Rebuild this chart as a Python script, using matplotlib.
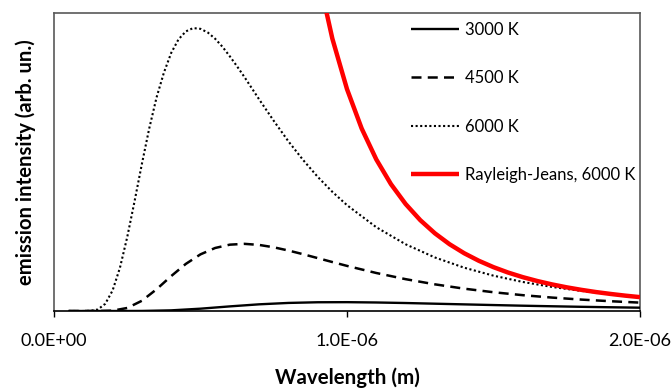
import numpy as np
import matplotlib
matplotlib.use("Agg")
import matplotlib.pyplot as plt
from matplotlib.ticker import FuncFormatter, FixedLocator

# ---- data (wavelength in micrometres, intensity in arbitrary units) ----
wl_3000 = [0.05, 0.20, 0.30, 0.40, 0.50, 0.60, 0.70, 0.80, 0.90, 1.00, 1.10,
           1.20, 1.30, 1.40, 1.50, 1.60, 1.70, 1.80, 1.90, 2.00]
i_3000 = [0.0, 0.0, 0.0002, 0.0023, 0.0082, 0.0163, 0.0236, 0.0285, 0.0309,
          0.0312, 0.0301, 0.0282, 0.0258, 0.0234, 0.0210, 0.0187, 0.0167,
          0.0148, 0.0132, 0.0117]

wl_4500 = [0.05, 0.15, 0.20, 0.25, 0.30, 0.35, 0.40, 0.45, 0.50, 0.55, 0.60,
           0.65, 0.70, 0.75, 0.80, 0.85, 0.90, 0.95, 1.00, 1.10, 1.20, 1.30,
           1.40, 1.50, 1.60, 1.70, 1.80, 1.90, 2.00]
i_4500 = [0.0, 0.0, 0.0013, 0.0107, 0.0362, 0.0768, 0.1234, 0.1665, 0.2002,
          0.2227, 0.2344, 0.2373, 0.2335, 0.2251, 0.2137, 0.2007, 0.1869,
          0.1730, 0.1594, 0.1343, 0.1125, 0.0942, 0.0789, 0.0663, 0.0559,
          0.0474, 0.0403, 0.0345, 0.0296]

wl_6000 = [0.05, 0.10, 0.125, 0.15, 0.175, 0.20, 0.225, 0.25, 0.275, 0.30,
           0.325, 0.35, 0.375, 0.40, 0.425, 0.45, 0.475, 0.50, 0.525, 0.55,
           0.575, 0.60, 0.625, 0.65, 0.675, 0.70, 0.75, 0.80, 0.85, 0.90,
           0.95, 1.00, 1.10, 1.20, 1.30, 1.40, 1.50, 1.60, 1.70, 1.80, 1.90,
           2.00]
i_6000 = [0.0, 0.0, 0.0006, 0.0056, 0.0256, 0.0725, 0.1525, 0.2615, 0.388,
          0.520, 0.645, 0.7546, 0.842, 0.912, 0.960, 0.988, 0.9997, 0.997,
          0.984, 0.962, 0.9336, 0.900, 0.8642, 0.8267, 0.7874, 0.748, 0.672,
          0.5995, 0.5338, 0.4741, 0.4211, 0.374, 0.296, 0.2358, 0.1892,
          0.1530, 0.1248, 0.1026, 0.0850, 0.0710, 0.0596, 0.0504]

wl_rj = [0.85, 0.90, 0.95, 1.00, 1.05, 1.10, 1.15, 1.20, 1.25, 1.30, 1.35,
         1.40, 1.45, 1.50, 1.55, 1.60, 1.65, 1.70, 1.75, 1.80, 1.85, 1.90,
         1.95, 2.00]
i_rj = [1.502, 1.195, 0.9625, 0.784, 0.645, 0.5355, 0.4483, 0.3781, 0.3211,
        0.2745, 0.2360, 0.2041, 0.1774, 0.1549, 0.1358, 0.1196, 0.1058,
        0.0939, 0.0836, 0.0747, 0.0669, 0.0602, 0.0542, 0.0490]

labels = ["3000 K", "4500 K", "6000 K", "Rayleigh-Jeans, 6000 K"]
x_ticks = [0.0, 1.0e-6, 2.0e-6]

plt.rcParams['font.family'] = ['Lato', 'DejaVu Sans']

fig = plt.figure(figsize=(6.72, 3.89), dpi=100)
ax = fig.add_axes([54/672, 1-311/389, (640-54)/672, (311-13)/389])

um = 1e-6
ax.plot(np.array(wl_3000)*um, i_3000, color='black', lw=1.7,
        solid_capstyle='butt', label=labels[0], zorder=3)
ax.plot(np.array(wl_4500)*um, i_4500, color='black', lw=1.8,
        linestyle=(0, (4, 2.5)), dash_capstyle='butt', label=labels[1], zorder=3)
ax.plot(np.array(wl_6000)*um, i_6000, color='black', lw=1.5,
        linestyle=(0, (1, 1.2)), dash_capstyle='butt', label=labels[2], zorder=3)
ax.plot(np.array(wl_rj)*um, i_rj, color='#ff0000', lw=3.2,
        solid_capstyle='butt', label=labels[3], zorder=4)

ax.set_xlim(0, 2e-6)
ax.set_ylim(0, 298/283)
ax.xaxis.set_major_locator(FixedLocator(x_ticks))
ax.xaxis.set_major_formatter(FuncFormatter(lambda v, p: f"{v:.1E}"))
ax.set_yticks([])
ax.tick_params(axis='x', direction='out', length=4, width=1, colors='black',
               labelsize=13, pad=12)

for s in ['left', 'top', 'right']:
    ax.spines[s].set_color('#595959')
    ax.spines[s].set_linewidth(1.2)
ax.spines['bottom'].set_color('black')
ax.spines['bottom'].set_linewidth(1.2)

ax.set_xlabel("Wavelength (m)", fontsize=14.8, fontweight='bold', labelpad=13)
ax.set_ylabel("emission intensity (arb. un.)", fontsize=14.6, fontweight='bold',
              labelpad=13)

leg = ax.legend(loc='upper left', bbox_to_anchor=(0.609, 0.97), frameon=False,
                fontsize=12, handlelength=2.88, handletextpad=0.36,
                labelspacing=1.94, borderpad=0, borderaxespad=0)

fig.savefig("out.png", dpi=100)
